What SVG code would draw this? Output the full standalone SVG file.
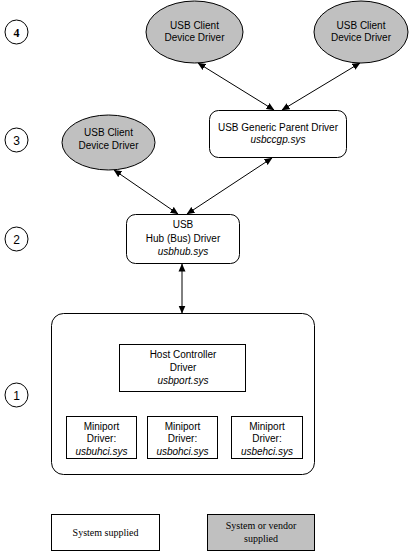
<svg xmlns="http://www.w3.org/2000/svg" width="412" height="553" viewBox="0 0 412 553">
<style>
  .bg{fill:#fff}
  .box{fill:#fff;stroke:#000;stroke-width:1}
  .grey{fill:#c0c0c0;stroke:#000;stroke-width:1}
  .t{font-family:"Liberation Sans",Arial,sans-serif;font-size:10px;fill:#000;text-anchor:middle}
  .i{font-style:italic}
  .s{font-family:"Liberation Serif","Times New Roman",serif;font-size:10px;fill:#000;text-anchor:middle}
  .n{font-family:"Liberation Sans",Arial,sans-serif;font-size:12px;fill:#000;text-anchor:middle}
  .c{fill:none;stroke:#000;stroke-width:1}
</style>
<defs>
  <marker id="ah" viewBox="0 0 8 8" refX="7.5" refY="4" markerWidth="8" markerHeight="8" markerUnits="userSpaceOnUse" orient="auto-start-reverse">
    <path d="M0,0.5 L8,4 L0,7.5 Z" fill="#000"/>
  </marker>
</defs>
<rect class="bg" x="0" y="0" width="412" height="553"/>

<g id="levels">
  <g id="level4"><ellipse class="c" cx="16.5" cy="32" rx="11.5" ry="12"/><text class="n" x="16.5" y="36.5" style="font-family:'Liberation Serif',serif;font-weight:bold">4</text></g>
  <g id="level3"><ellipse class="c" cx="16.5" cy="140" rx="11.5" ry="12"/><text class="n" x="16.5" y="144.5">3</text></g>
  <g id="level2"><ellipse class="c" cx="16.5" cy="239" rx="11.5" ry="12"/><text class="n" x="16.5" y="243.5">2</text></g>
  <g id="level1"><ellipse class="c" cx="16.5" cy="395" rx="11.5" ry="12"/><text class="n" x="16.5" y="399.5">1</text></g>
</g>

<g id="connectors" class="c">
  <line x1="198" y1="63" x2="274" y2="110" marker-start="url(#ah)" marker-end="url(#ah)"/>
  <line x1="360" y1="63" x2="282" y2="110" marker-start="url(#ah)" marker-end="url(#ah)"/>
  <line x1="114" y1="170" x2="178" y2="214" marker-start="url(#ah)" marker-end="url(#ah)"/>
  <line x1="272" y1="158" x2="187" y2="214" marker-start="url(#ah)" marker-end="url(#ah)"/>
  <line x1="182" y1="264" x2="182" y2="313" marker-start="url(#ah)" marker-end="url(#ah)"/>
  <line x1="183" y1="392" x2="103" y2="416"/>
  <line x1="183" y1="392" x2="183" y2="416"/>
  <line x1="183" y1="392" x2="265" y2="416"/>
</g>

<g id="client1">
  <ellipse class="grey" cx="194.5" cy="32" rx="48.5" ry="31"/>
  <text class="t" x="194.5" y="28.5">USB Client</text>
  <text class="t" x="194.5" y="41">Device Driver</text>
</g>
<g id="client2">
  <ellipse class="grey" cx="361" cy="32" rx="47" ry="31"/>
  <text class="t" x="361" y="28.5">USB Client</text>
  <text class="t" x="361" y="41">Device Driver</text>
</g>
<g id="client3">
  <ellipse class="grey" cx="108.5" cy="142.5" rx="46.5" ry="27.5"/>
  <text class="t" x="108.5" y="135.5">USB Client</text>
  <text class="t" x="108.5" y="148.5">Device Driver</text>
</g>
<g id="genericParent">
  <rect class="box" x="209.5" y="110.5" width="137" height="47" rx="9" ry="9"/>
  <text class="t" x="278" y="131">USB Generic Parent Driver</text>
  <text class="t i" x="278" y="143">usbccgp.sys</text>
</g>
<g id="hub">
  <rect class="box" x="126.5" y="214.5" width="113" height="49" rx="9" ry="9"/>
  <text class="t" x="183" y="228">USB</text>
  <text class="t" x="183" y="241.5">Hub (Bus) Driver</text>
  <text class="t i" x="183" y="255">usbhub.sys</text>
</g>
<g id="hostGroup">
  <rect class="box" x="51.5" y="313.5" width="263" height="161" rx="12" ry="12"/>
</g>
<g id="hostController">
  <rect class="box" x="119.5" y="344.5" width="126" height="47"/>
  <text class="t" x="183" y="357.5">Host Controller</text>
  <text class="t" x="183" y="370.5">Driver</text>
  <text class="t i" x="183" y="383.5">usbport.sys</text>
</g>
<g id="miniportUhci">
  <rect class="box" x="66.5" y="416.5" width="70" height="42"/>
  <text class="t" x="101.5" y="429.5">Miniport</text>
  <text class="t" x="101.5" y="442">Driver:</text>
  <text class="t i" x="101.5" y="455">usbuhci.sys</text>
</g>
<g id="miniportOhci">
  <rect class="box" x="147.5" y="416.5" width="70" height="42"/>
  <text class="t" x="182.5" y="429.5">Miniport</text>
  <text class="t" x="182.5" y="442">Driver:</text>
  <text class="t i" x="182.5" y="455">usbohci.sys</text>
</g>
<g id="miniportEhci">
  <rect class="box" x="231.5" y="416.5" width="71" height="42"/>
  <text class="t" x="267" y="429.5">Miniport</text>
  <text class="t" x="267" y="442">Driver:</text>
  <text class="t i" x="267" y="455">usbehci.sys</text>
</g>

<g id="legendSystem">
  <rect class="box" x="51.5" y="514.5" width="108" height="36"/>
  <text class="s" x="105.5" y="536">System supplied</text>
</g>
<g id="legendVendor">
  <rect class="grey" x="207.5" y="514.5" width="107" height="36"/>
  <text class="s" x="261" y="529">System or vendor</text>
  <text class="s" x="261" y="542">supplied</text>
</g>
</svg>
